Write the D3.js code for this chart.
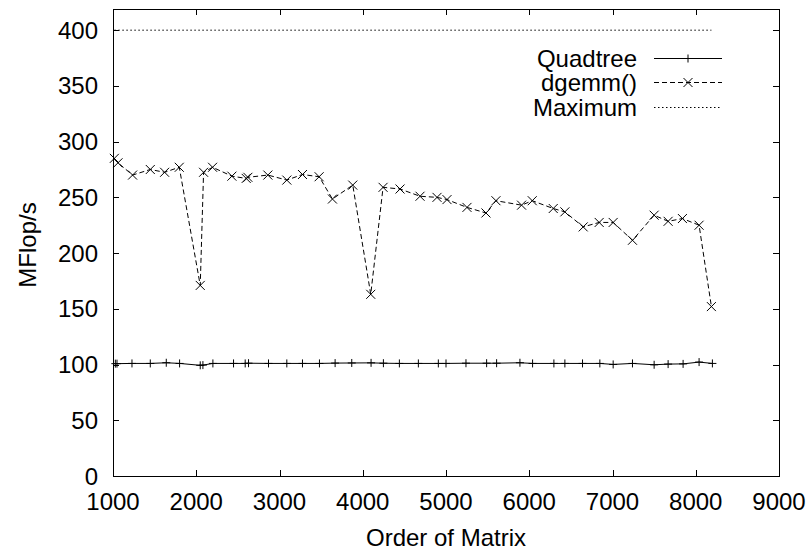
<!DOCTYPE html>
<html>
<head>
<meta charset="utf-8">
<title>MFlop/s vs order of matrix</title>
<script src="https://cdn.jsdelivr.net/npm/d3@7/dist/d3.min.js"></script>
<style>
    body {margin: 0; background: #fff;}
    text {font-family: "Liberation Sans", Arial, sans-serif; font-size: 24px; fill: #000;}
    .frame {fill: none; stroke: #000; stroke-width: 1;}
    .tick {stroke: #000; stroke-width: 1;}
</style>
</head>
<body>
<div id="container"></div>
<script>
// dgemm() measurements
const dgemmX = [1016, 1060, 1235, 1448, 1620, 1796, 2048, 2088, 2196, 2428, 2600, 2620, 2860, 3088, 3276, 3476, 3636, 3880, 4096, 4244,
    4448, 4688, 4892, 5012, 5252, 5480, 5600, 5908, 6036, 6288, 6428, 6648, 6840, 7008, 7240, 7500, 7668, 7840, 8040, 8188];
const dgemmY = [285, 281, 270, 275, 272.5, 277, 171, 272.5, 277, 269, 267, 268, 270, 265.5, 270.5, 268.5, 248.5, 261, 163, 259,
    257.5, 251, 250, 248, 241, 236, 247, 243, 247, 240, 237, 223.5, 227.5, 227.5, 211.5, 234, 228.5, 231, 225, 152];

// quadtree measurements
const quadX = [1028, 1048, 1228, 1448, 1640, 1800, 2048, 2080, 2200, 2448, 2588, 2628, 2868, 3088, 3276, 3480, 3668, 3868, 4100, 4248,
    4440, 4668, 4908, 5000, 5240, 5488, 5608, 5888, 6040, 6296, 6428, 6640, 6848, 7008, 7240, 7500, 7668, 7848, 8040, 8200];
const quadY = [100.8, 100.8, 101, 101, 101.6, 101, 99.3, 99.5, 101, 101, 101, 101.2, 101, 101, 101, 101, 101.3, 101.4, 101.5, 101.2,
    101, 101, 101, 101, 101.2, 101.2, 101.2, 101.6, 101, 101, 101, 101, 101, 100.1, 101, 99.8, 100.4, 100.6, 102.2, 101];

// theoretical peak
const maxX = [1016, 8188];
const maxY = [400, 400];

const xTicks = [1000, 2000, 3000, 4000, 5000, 6000, 7000, 8000, 9000];
const yTicks = [0, 50, 100, 150, 200, 250, 300, 350, 400];
const legendNames = ['Quadtree', 'dgemm()', 'Maximum'];

const w = 812, h = 556;
const plot = {left: 113, right: 779, top: 9, bottom: 476};

const svg = d3.select('#container').append('svg')
    .attr('width', w)
    .attr('height', h);

const x = d3.scaleLinear().domain([1000, 9000]).range([plot.left, plot.right]);
const y = d3.scaleLinear().domain([0, 419]).range([plot.bottom, plot.top]);

// ticks, mirrored on all four sides
const tl = 6;
svg.append('g').selectAll('line.xb').data(xTicks.slice(1, -1)).join('line')
    .attr('class', 'tick')
    .attr('x1', d => Math.round(x(d)) + 0.5).attr('x2', d => Math.round(x(d)) + 0.5)
    .attr('y1', plot.bottom).attr('y2', plot.bottom - tl);
svg.append('g').selectAll('line.xt').data(xTicks.slice(1, -1)).join('line')
    .attr('class', 'tick')
    .attr('x1', d => Math.round(x(d)) + 0.5).attr('x2', d => Math.round(x(d)) + 0.5)
    .attr('y1', plot.top).attr('y2', plot.top + tl);
svg.append('g').selectAll('line.yl').data(yTicks.slice(1)).join('line')
    .attr('class', 'tick')
    .attr('y1', d => Math.round(y(d)) + 0.5).attr('y2', d => Math.round(y(d)) + 0.5)
    .attr('x1', plot.left).attr('x2', plot.left + tl);
svg.append('g').selectAll('line.yr').data(yTicks.slice(1)).join('line')
    .attr('class', 'tick')
    .attr('y1', d => Math.round(y(d)) + 0.5).attr('y2', d => Math.round(y(d)) + 0.5)
    .attr('x1', plot.right).attr('x2', plot.right - tl);

svg.append('rect').attr('class', 'frame')
    .attr('x', plot.left + 0.5).attr('y', plot.top + 0.5)
    .attr('width', plot.right - plot.left).attr('height', plot.bottom - plot.top);

// tick labels
svg.append('g').selectAll('text').data(xTicks).join('text')
    .attr('x', d => x(d))
    .attr('y', 510)
    .attr('text-anchor', 'middle')
    .text(d => d);
svg.append('g').selectAll('text').data(yTicks).join('text')
    .attr('x', 98)
    .attr('y', d => y(d) + 8.5)
    .attr('text-anchor', 'end')
    .text(d => d);

// axis titles
svg.append('text')
    .attr('x', (plot.left + plot.right) / 2)
    .attr('y', 546)
    .attr('text-anchor', 'middle')
    .text('Order of Matrix');
svg.append('text')
    .attr('transform', 'translate(36, 245) rotate(-90)')
    .attr('text-anchor', 'middle')
    .text('MFlop/s');

const line = d3.line().x(d => x(d[0])).y(d => y(d[1]));
const quad = d3.zip(quadX, quadY);
const dgemm = d3.zip(dgemmX, dgemmY);
const maxi = d3.zip(maxX, maxY);

const plus = (g, px, py) => g.append('path')
    .attr('d', `M${px - 4},${py}H${px + 4}M${px},${py - 4}V${py + 4}`)
    .attr('stroke', '#000').attr('stroke-width', 1).attr('fill', 'none');
const cross = (g, px, py) => g.append('path')
    .attr('d', `M${px - 4.5},${py - 4.5}L${px + 4.5},${py + 4.5}M${px - 4.5},${py + 4.5}L${px + 4.5},${py - 4.5}`)
    .attr('stroke', '#000').attr('stroke-width', 1).attr('fill', 'none');

// series
svg.append('path').datum(maxi).attr('d', line)
    .attr('fill', 'none').attr('stroke', '#000').attr('stroke-width', 1).attr('stroke-dasharray', '1.5,2.5');

svg.append('path').datum(dgemm).attr('d', line)
    .attr('fill', 'none').attr('stroke', '#000').attr('stroke-width', 1).attr('stroke-dasharray', '5,3');
const gd = svg.append('g');
dgemm.forEach(d => cross(gd, x(d[0]), y(d[1])));

svg.append('path').datum(quad).attr('d', line)
    .attr('fill', 'none').attr('stroke', '#000').attr('stroke-width', 1);
const gq = svg.append('g');
quad.forEach(d => plus(gq, x(d[0]), y(d[1])));

// legend
const legY = [58, 82, 107];
const lg = svg.append('g');
legendNames.forEach((name, i) => {
    lg.append('text')
        .attr('x', 637)
        .attr('y', legY[i] + 8.5)
        .attr('text-anchor', 'end')
        .text(name);
    const ln = lg.append('line')
        .attr('x1', 654).attr('x2', 722)
        .attr('y1', legY[i] + 0.5).attr('y2', legY[i] + 0.5)
        .attr('stroke', '#000').attr('stroke-width', 1);
    if (i === 0) plus(lg, 688, legY[i] + 0.5);
    if (i === 1) { ln.attr('stroke-dasharray', '5,3'); cross(lg, 688, legY[i] + 0.5); }
    if (i === 2) ln.attr('stroke-dasharray', '1.5,2.5');
});
</script>
</body>
</html>
